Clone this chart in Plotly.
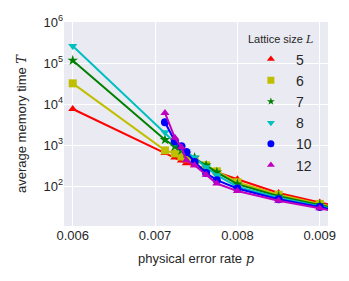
import plotly.graph_objects as go

p_vals = [0.006, 0.00712, 0.00724, 0.00732, 0.00738, 0.00748, 0.00762, 0.00775, 0.008, 0.0085, 0.009, 0.0095]
p_big = [0.00712, 0.00724, 0.00732, 0.00738, 0.00748, 0.00762, 0.00775, 0.008, 0.0085, 0.009, 0.0095]

T_L5 = [7600, 640, 500, 425, 360, 323, 258, 218, 148, 68, 40, 24]
T_L6 = [32000, 745, 630, 530, 475, 425, 323, 230, 125, 62, 37, 22]
T_L7 = [116000, 1350, 930, 745, 630, 500, 323, 218, 112, 57, 35, 21]
T_L8 = [260000, 2050, 1160, 880, 700, 500, 290, 185, 97, 52, 32, 20]
T_L10 = [3600, 1250, 946, 676, 389, 209, 140, 88, 48, 31, 19]
T_L12 = [6100, 1510, 890, 427, 324, 190, 116, 76, 44, 29, 18]

sizes = ["5", "6", "7", "8", "10", "12"]
x_ticks = [0.006, 0.007, 0.008, 0.009]
x_labels = ["0.006", "0.007", "0.008", "0.009"]
y_ticks = [1e2, 1e3, 1e4, 1e5, 1e6]
y_labels = ["10<sup>2</sup>", "10<sup>3</sup>", "10<sup>4</sup>", "10<sup>5</sup>", "10<sup>6</sup>"]

series = [
    (p_vals, T_L5, "rgb(255,0,0)", "triangle-up"),
    (p_vals, T_L6, "rgb(191,191,0)", "square"),
    (p_vals, T_L7, "rgb(0,128,0)", "star"),
    (p_vals, T_L8, "rgb(0,191,191)", "triangle-down"),
    (p_big, T_L10, "rgb(0,0,255)", "circle"),
    (p_big, T_L12, "rgb(191,0,191)", "triangle-up"),
]

fig = go.Figure()
for name, (xs, ys, col, sym) in zip(sizes, series):
    fig.add_trace(go.Scatter(
        x=xs, y=ys, mode="lines+markers", showlegend=False,
        line=dict(color=col, width=2),
        marker=dict(color=col, symbol=sym, size=8),
    ))
for name, (xs, ys, col, sym) in zip(sizes, series):
    fig.add_trace(go.Scatter(
        x=[None], y=[None], mode="markers", name=name,
        marker=dict(color=col, symbol=sym, size=7 if sym != "star" else 6),
    ))

serif = "font-family:'DejaVu Serif'"
# page body has an 8px default margin, so the figure is 8px smaller and shifted
fig.update_layout(
    width=341, height=273,
    margin=dict(l=56, r=21, t=14, b=55, autoexpand=False),
    paper_bgcolor="white", plot_bgcolor="#EAEAF2",
    font=dict(family="Liberation Sans, Arial, sans-serif", size=13, color="#262626"),
    legend=dict(
        title=dict(text=f"Lattice size <span style=\"{serif}\"><i>L</i></span>", font=dict(size=11)),
        x=0.689, y=0.965, xanchor="left", yanchor="top",
        bgcolor="rgba(0,0,0,0)", font=dict(size=14),
        itemwidth=40, tracegroupgap=0,
    ),
    xaxis=dict(
        range=[0.005894, 0.0091], tickvals=x_ticks, ticktext=x_labels,
        gridcolor="white", gridwidth=1.2, zeroline=False, showline=False,
        ticks="", tickfont=dict(size=13), automargin=False,
        title=dict(text=f"physical error rate <span style=\"{serif}\"><i>p</i></span>", font=dict(size=13), standoff=11),
    ),
    yaxis=dict(
        type="log", range=[1.03, 6.0], tickvals=y_ticks, ticktext=y_labels,
        gridcolor="white", gridwidth=1.2, zeroline=False, showline=False,
        ticks="", tickfont=dict(size=13), automargin=False,
        title=dict(text=f"average memory time <span style=\"{serif}\"><i>T</i></span>", font=dict(size=13), standoff=13),
    ),
)
fig.write_html("out.html")
